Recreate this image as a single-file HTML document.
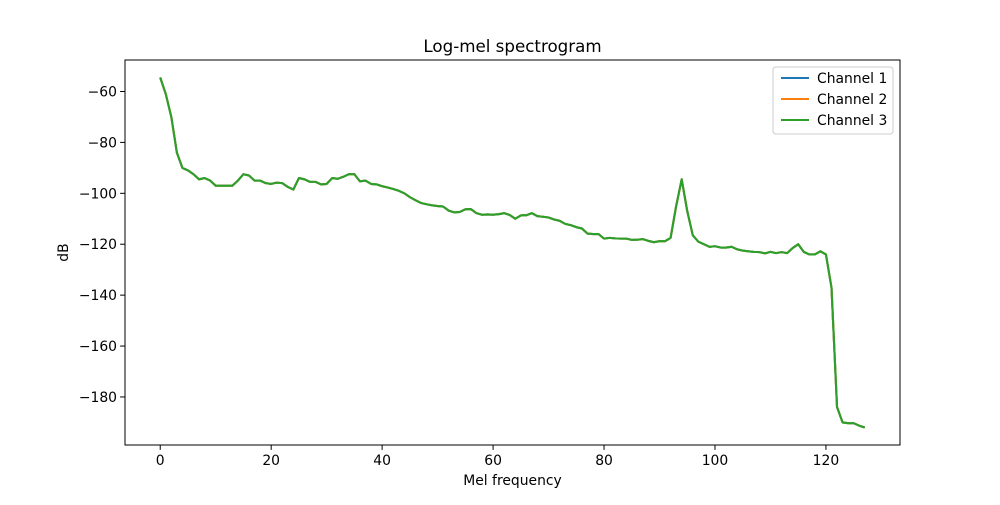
<!DOCTYPE html>
<html><head><meta charset="utf-8"><style>body{margin:0;background:#fff}svg{font-family:"DejaVu Sans","Liberation Sans",sans-serif}</style></head>
<body>
<svg id="chart" width="1000" height="500" xmlns="http://www.w3.org/2000/svg">
<rect width="1000" height="500" fill="#fff"/>
<text x="512.5" y="52" text-anchor="middle" font-size="16.7">Log-mel spectrogram</text>
<g id="plot"></g>
<rect x="125" y="60" width="775" height="385" fill="none" stroke="#000" stroke-width="1"/>
<text x="512.5" y="485" text-anchor="middle" font-size="13.9">Mel frequency</text>
<text x="68" y="252.5" text-anchor="middle" font-size="13.9" transform="rotate(-90 68 252.5)">dB</text>
<g>
<rect x="773" y="67" width="120" height="67" rx="3" fill="#fff" stroke="#ccc"/>
<line x1="781" y1="78" x2="809" y2="78" stroke="#1f77b4" stroke-width="2"/><text x="817" y="83" font-size="13.9">Channel 1</text>
<line x1="781" y1="99" x2="809" y2="99" stroke="#ff7f0e" stroke-width="2"/><text x="817" y="104" font-size="13.9">Channel 2</text>
<line x1="781" y1="120" x2="809" y2="120" stroke="#2ca02c" stroke-width="2"/><text x="817" y="125" font-size="13.9">Channel 3</text>
</g>
</svg>
<script>
const xTicks=[0,20,40,60,80,100,120];
const yTicks=[-60,-80,-100,-120,-140,-160,-180];
const channel1=[-54.5,-61,-70,-84,-90,-91,-92.5,-94.5,-94,-95,-97,-97,-97,-97,-95,-92.5,-93,-95,-95,-96,-96.3,-95.8,-96,-97.5,-98.5,-94,-94.5,-95.5,-95.5,-96.5,-96.3,-94,-94.3,-93.5,-92.5,-92.5,-95.3,-95,-96.3,-96.5,-97.2,-97.7,-98.3,-99,-100,-101.5,-102.7,-103.8,-104.3,-104.7,-105,-105.2,-106.8,-107.5,-107.3,-106.3,-106.2,-107.8,-108.4,-108.3,-108.4,-108.2,-107.8,-108.5,-110,-108.7,-108.6,-107.8,-109,-109.2,-109.5,-110.3,-110.8,-112,-112.5,-113.3,-113.8,-115.8,-116,-116,-117.8,-117.5,-117.7,-117.8,-117.8,-118.3,-118.2,-118,-118.7,-119.2,-118.8,-118.8,-117.5,-105,-94.5,-107,-116.5,-119,-120,-121,-120.8,-121.3,-121.3,-121,-122,-122.5,-122.8,-123,-123.1,-123.6,-123,-123.5,-123.1,-123.5,-121.5,-120,-123,-124,-124,-122.8,-124,-137,-184,-190,-190.3,-190.3,-191.3,-192];
const channel2=channel1.slice();
const channel3=channel1.slice();
const seriesColors=["#1f77b4","#ff7f0e","#2ca02c"];
const NS="http://www.w3.org/2000/svg";
const L=125,R=900,T=60,B=445;
const xmin=-6.35,xmax=133.35;
const allV=channel1.concat(channel2,channel3);
const vmin=Math.min(...allV),vmax=Math.max(...allV),pad=(vmax-vmin)*0.05;
const ymin=vmin-pad,ymax=vmax+pad;
const xs=v=>L+(v-xmin)/(xmax-xmin)*(R-L);
const ys=v=>B-(v-ymin)/(ymax-ymin)*(B-T);
const g=document.getElementById('plot');
function mk(t,a){const e=document.createElementNS(NS,t);for(const k in a)e.setAttribute(k,a[k]);g.appendChild(e);return e;}
xTicks.forEach(t=>{
  const ln=mk('line',{x1:xs(t),x2:xs(t),y1:B,y2:B+4.9,stroke:'#000'});
  
  
  const tx=mk('text',{x:xs(t),y:B+20,'text-anchor':'middle','font-size':13.9});
  tx.textContent=t;
  
  
});
yTicks.forEach(t=>{
  const ln=mk('line',{x1:L-4.9,x2:L,y1:ys(t),y2:ys(t),stroke:'#000'});
  
  
  const tx=mk('text',{x:L-8,y:ys(t)+5,'text-anchor':'end','font-size':13.9});
  tx.textContent='\u2212'+Math.abs(t);
  
  
});
[channel1,channel2,channel3].forEach((s,i)=>{
  const p=mk('polyline',{points:s.map((v,j)=>xs(j)+','+ys(v)).join(' '),fill:'none',stroke:seriesColors[i],'stroke-width':2.1,'stroke-linejoin':'round'});
  
  
});
</script>
</body></html>
